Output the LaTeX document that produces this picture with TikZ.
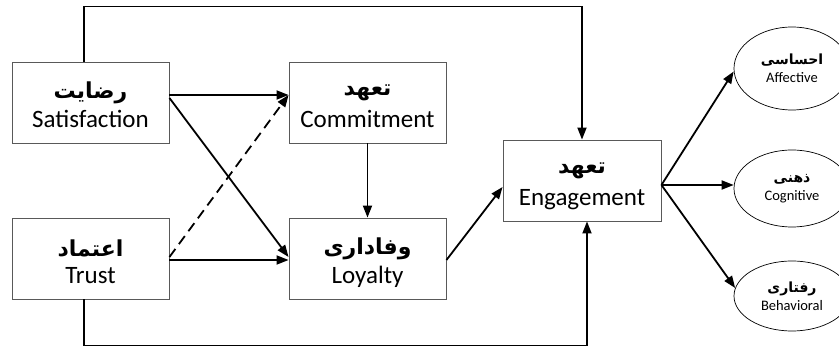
\documentclass[tikz,border=0pt]{standalone}
\usepackage{fontspec}
\setmainfont{Carlito}
\newfontfamily\fafont[Script=Arabic]{DejaVu Sans}
\TeXXeTstate=1
\usetikzlibrary{arrows.meta,shapes.geometric,shadows}
\newcommand\faText[2]{{\fafont\bfseries\fontsize{#1}{#1}\selectfont\beginR #2\endR}}
\newcommand\boxlabels[3]{%
  \node[inner sep=0pt] (#1fa) at ([yshift=10pt]#1.center) {\faText{22}{#2}};
  \node[inner sep=0pt,anchor=base,font=\fontsize{25}{30}\selectfont] (#1en) at ([yshift=-25pt]#1.center) {#3};}
\begin{document}
\begin{tikzpicture}[x=1pt,y=-1pt,
  box/.style={draw=black!65,line width=0.9pt,fill=white,minimum width=157pt,minimum height=81pt,
    inner sep=0pt,
    drop shadow={shadow xshift=0pt,shadow yshift=-1.5pt,fill=blue!25,opacity=0.6}},
  oval/.style={ellipse,draw=black,line width=0.7pt,minimum width=116pt,inner sep=0pt,
    align=center,font=\fontsize{14.5}{18}\selectfont},
  arr/.style={line width=1.8pt,-{Triangle[length=12pt,width=9pt]}},
  dashedarr/.style={arr,dash pattern=on 10pt off 6pt}]
\useasboundingbox (0,0) rectangle (839,347);
\node[box] (sat) at (90.5,102.5) {};
\node[box] (trust) at (90.5,258.5) {};
\node[box] (com) at (367.5,102.5) {};
\node[box] (loy) at (367.5,258.5) {};
\node[box,minimum width=158pt] (eng) at (582,180.5) {};
\boxlabels{sat}{رضایت}{Satisfaction}
\boxlabels{trust}{اعتماد}{Trust}
\boxlabels{com}{تعهد}{Commitment}
\boxlabels{loy}{وفاداری}{Loyalty}
\boxlabels{eng}{تعهد}{Engagement}
\node[oval,minimum height=83pt] (aff) at (792,68.5) {\faText{14}{احساسی}\\Affective};
\node[oval,minimum height=77pt] (cog) at (792,188.5) {\faText{14}{ذهنی}\\Cognitive};
\node[oval,minimum height=70pt] (beh) at (792,296) {\faText{14}{رفتاری}\\Behavioral};
\draw[arr] ([xshift=-6.5pt]sat.north) -- ++(0,-55) -| (eng.north);
\draw[arr] ([xshift=-6.5pt]trust.south) -- ++(0,46) -| ([xshift=5pt]eng.south);
\draw[arr] ([yshift=7.5pt]sat.east) -- ([yshift=7.5pt]com.west);
\draw[arr] ([yshift=4.5pt]sat.east) -- ([yshift=1.5pt]loy.west);
\draw[dashedarr] ([yshift=1.5pt]trust.east) -- ([yshift=7.5pt]com.west);
\draw[arr] ([yshift=-1.5pt]trust.east) -- ([yshift=-1.5pt]loy.west);
\draw[arr] (com.south) -- (loy.north);
\draw[arr] ([yshift=-1.5pt]loy.east) -- ([yshift=-6.5pt]eng.west);
\draw[arr] ([yshift=-4.5pt]eng.east) -- ([yshift=-3pt]aff.west);
\draw[arr] ([yshift=-4.5pt]eng.east) -- ([yshift=3.5pt]cog.west);
\draw[arr] ([yshift=-4.5pt]eng.east) -- ([yshift=8pt,xshift=1.5pt]beh.west);
\end{tikzpicture}
\end{document}
